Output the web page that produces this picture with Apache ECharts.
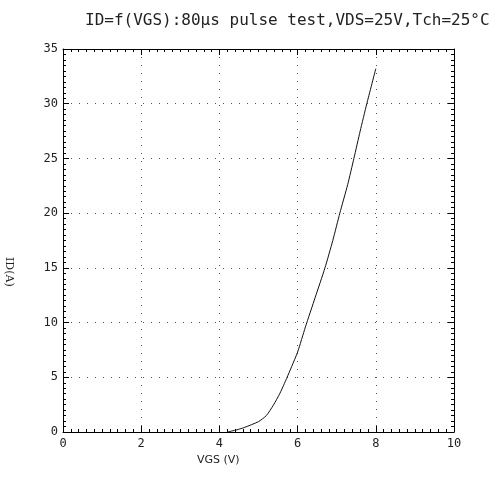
<!DOCTYPE html>
<html><head><meta charset="utf-8">
<script src="https://cdn.jsdelivr.net/npm/echarts@6/dist/echarts.min.js"></script>
<style>html,body{margin:0;padding:0;background:#fff}#c{width:495px;height:480px}</style>
</head><body><div id="c"></div>
<script>
const titleText = 'ID=f(VGS):80\u03bcs pulse test,VDS=25V,Tch=25\u00b0C';
const xName = 'VGS (V)';
const yName = 'ID(A)';
const vgs = [4.2, 4.45, 4.65, 5.0, 5.2, 5.38, 5.55, 5.72, 5.85, 6.0, 6.2, 6.45, 6.7, 6.9, 7.08, 7.28, 7.44, 7.6, 7.77, 8.0];
const idA = [0, 0.2, 0.43, 0.95, 1.5, 2.45, 3.55, 4.9, 6.0, 7.3, 9.6, 12.3, 15, 17.5, 20, 22.6, 25, 27.5, 30, 33.2];
const xMin = 0, xMax = 10, xStep = 2;
const yMin = 0, yMax = 35, yStep = 5;

const chart = echarts.init(document.getElementById('c'));
const mono = 'DejaVu Sans Mono';
function axisBase(show){
  return {
    axisLine:{show:true, onZero:false, lineStyle:{color:'#000', width:1}},
    axisTick:{show:true, inside:true, length:6, lineStyle:{color:'#000'}},
    minorTick:{show:true, splitNumber:10, length:3, lineStyle:{color:'#000'}},
    axisLabel:{show:show, color:'#222', fontFamily:mono, fontSize:12},
  };
}
chart.setOption({
  animation:false,
  backgroundColor:'#fff',
  title:{text:titleText, left:80, top:8, textStyle:{fontFamily:mono, fontSize:16, fontWeight:'normal', color:'#222'}},
  grid:{left:63, right:41, top:49, bottom:48},
  xAxis:[
    Object.assign(axisBase(true), {type:'value', position:'bottom', min:xMin, max:xMax, interval:xStep,
      splitLine:{show:true, lineStyle:{color:'#555', type:[1,7], width:1}},
      axisLabel:{color:'#222', fontFamily:mono, fontSize:12, margin:6}}),
    Object.assign(axisBase(false), {type:'value', position:'top', min:xMin, max:xMax, interval:xStep, splitLine:{show:false}})
  ],
  yAxis:[
    Object.assign(axisBase(true), {type:'value', position:'left', min:yMin, max:yMax, interval:yStep,
      splitLine:{show:true, lineStyle:{color:'#555', type:[1,7], width:1}},
      axisLabel:{color:'#222', fontFamily:mono, fontSize:12, margin:5}}),
    Object.assign(axisBase(false), {type:'value', position:'right', min:yMin, max:yMax, interval:yStep, splitLine:{show:false}})
  ],
  graphic:[
    {type:'text', left:197, top:455, style:{text:xName, font:'11px "DejaVu Sans"', fill:'#222'}},
    {type:'text', x:14, y:257, rotation:-Math.PI/2, originX:0, originY:0, style:{text:yName, font:'11px "DejaVu Serif"', fill:'#222'}}
  ],
  series:[{type:'line', data:vgs.map((v,i)=>[v, idA[i]]), showSymbol:false, smooth:0.2,
    lineStyle:{color:'#111', width:1}}]
});
</script></body></html>
